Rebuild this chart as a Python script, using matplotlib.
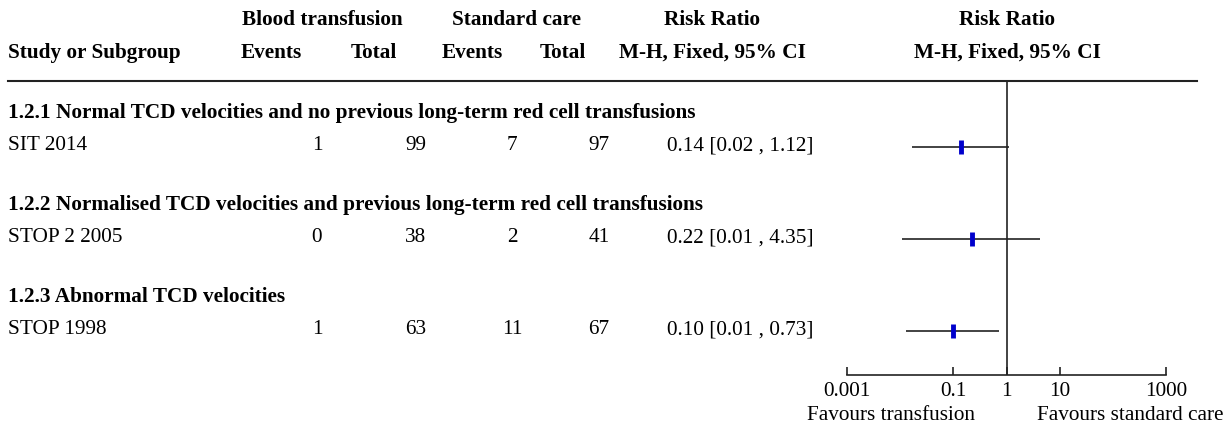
import matplotlib
matplotlib.use("Agg")
from matplotlib import pyplot as plt
from matplotlib.ticker import NullLocator

plt.rcParams['font.family'] = ['Liberation Serif', 'DejaVu Serif']

# data
subgroups = ['1.2.1 Normal TCD velocities and no previous long-term red cell transfusions',
             '1.2.2 Normalised TCD velocities and previous long-term red cell transfusions',
             '1.2.3 Abnormal TCD velocities']
studies = ['SIT 2014', 'STOP 2 2005', 'STOP 1998']
tx_events = [1, 0, 1]
tx_total = [99, 38, 63]
sc_events = [7, 2, 11]
sc_total = [97, 41, 67]
rr = [0.14, 0.22, 0.10]
ci_lo = [0.017, 0.011, 0.013]
ci_hi = [1.12, 4.35, 0.73]
ticks = [0.001, 0.1, 1, 10, 1000]
tick_labels = ['0.001', '0.1', '1', '10', '1000']

W, H = 1232, 428
fs = 15.3
fig = plt.figure(figsize=(W / 100, H / 100), dpi=100)

def put(x, y, s, ha='left', bold=False):
    fig.text(x / W, 1 - y / H, s, ha=ha, va='center', fontsize=fs,
             fontweight='bold' if bold else 'normal')

# header
put(322, 20, 'Blood transfusion', 'center', True)
put(517, 20, 'Standard care', 'center', True)
put(712, 20, 'Risk Ratio', 'center', True)
put(1007, 20, 'Risk Ratio', 'center', True)
put(8, 53, 'Study or Subgroup', bold=True)
put(271, 53, 'Events', 'center', True)
put(374, 53, 'Total', 'center', True)
put(472, 53, 'Events', 'center', True)
put(563, 53, 'Total', 'center', True)
put(712, 53, 'M-H, Fixed, 95% CI', 'center', True)
put(1007, 53, 'M-H, Fixed, 95% CI', 'center', True)

# rule under header
fig.add_artist(plt.Line2D([8 / W, 1197 / W], [1 - 81 / H, 1 - 81 / H],
                          color='#222222', lw=1.5))

# forest axes, log scale
ax = fig.add_axes([847 / W, 1 - 375 / H, (1166 - 847) / W, (375 - 81) / H])
ax.set_xscale('log')
ax.set_xlim(0.001, 1000)
ax.set_ylim(375, 81)
ax.patch.set_alpha(0)
for s in ['left', 'right', 'top']:
    ax.spines[s].set_visible(False)
ax.spines['bottom'].set_linewidth(1.2)
ax.spines['bottom'].set_color('#222222')
ax.set_xticks(ticks)
ax.set_xticklabels(tick_labels)
ax.xaxis.set_minor_locator(NullLocator())
ax.tick_params(axis='x', direction='in', length=6, width=1.2, labelsize=fs, pad=5, color='#222222')
ax.set_yticks([])
ax.axvline(1, color='#222222', lw=1.2)

for i in range(len(studies)):
    yh = 113 + i * 92
    ys = yh + 33
    put(8, yh, subgroups[i], bold=True)
    put(8, ys, studies[i])
    put(317, ys, str(tx_events[i]), 'center')
    put(416, ys, str(tx_total[i]), 'center')
    put(512, ys, str(sc_events[i]), 'center')
    put(599, ys, str(sc_total[i]), 'center')
    put(667, ys, f'{rr[i]:.2f} [{ci_lo[i]:.2f} , {ci_hi[i]:.2f}]')
    ax.plot([ci_lo[i], ci_hi[i]], [ys + 1, ys + 1], color='#222222', lw=1.2, solid_capstyle='butt')
    ax.plot([rr[i]], [ys + 1], marker='|', ms=10, mew=3.5, color='#0000cc')

put(891, 416, 'Favours transfusion', 'center')
put(1130, 416, 'Favours standard care', 'center')

fig.savefig('out.png', dpi=100)
